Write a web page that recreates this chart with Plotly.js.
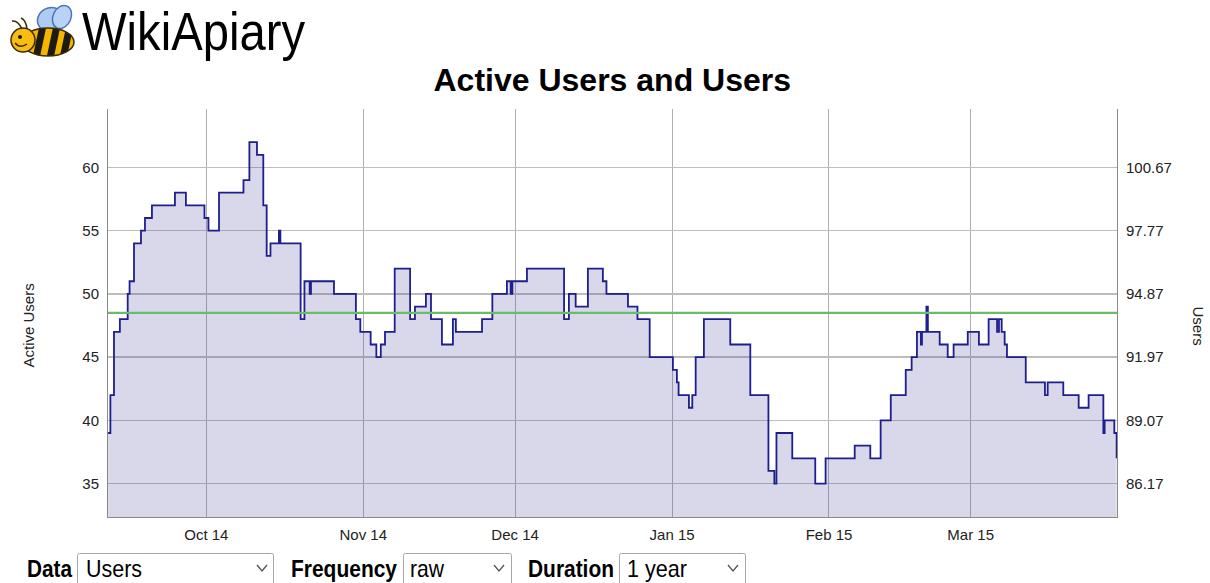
<!DOCTYPE html>
<html>
<head>
<meta charset="utf-8">
<script src="https://cdn.plot.ly/plotly-3.0.1.min.js"></script>
<style>
  html, body { margin:0; padding:0; background:#fff; }
  body { width:1210px; height:583px; overflow:hidden; position:relative; font-family:"Liberation Sans", Arial, sans-serif; }
  #chart { position:absolute; left:0; top:0; width:1210px; height:583px; }
  #logo { position:absolute; left:0; top:0; }
  #controls { position:absolute; left:0; top:540px; }
</style>
</head>
<body>
<div id="chart"></div>

<svg id="logo" width="420" height="68" xmlns="http://www.w3.org/2000/svg">
  <!-- bee -->
  <g>
    <ellipse cx="50" cy="19" rx="13" ry="11" fill="#aecbf4" stroke="#4f74b5" stroke-width="1.5" transform="rotate(-30 50 19)"/>
    <ellipse cx="62" cy="17" rx="9" ry="12" fill="#b9d3f7" stroke="#4f74b5" stroke-width="1.5" transform="rotate(25 62 17)"/>
    <clipPath id="bodyclip"><ellipse cx="48" cy="42" rx="26" ry="14"/></clipPath>
    <ellipse cx="48" cy="42" rx="26" ry="14" fill="#f4b400"/>
    <g clip-path="url(#bodyclip)" fill="#1d1a14">
      <rect x="36" y="20" width="7" height="40" transform="rotate(12 40 42)"/>
      <rect x="50" y="20" width="7" height="40" transform="rotate(12 54 42)"/>
      <rect x="63" y="20" width="7" height="40" transform="rotate(12 67 42)"/>
    </g>
    <ellipse cx="48" cy="42" rx="26" ry="14" fill="none" stroke="#3b2b00" stroke-width="1.5"/>
    <circle cx="23" cy="40" r="12" fill="#f7bd12" stroke="#3b2b00" stroke-width="1.5"/>
    <circle cx="20" cy="37" r="2" fill="#1d1a14"/>
    <path d="M15 43 Q20 49 27 44" fill="none" stroke="#3b2b00" stroke-width="1.5"/>
    <path d="M22 29 Q18 20 12 21" fill="none" stroke="#3b2b00" stroke-width="1.5"/>
    <path d="M27 29 Q26 20 21 18" fill="none" stroke="#3b2b00" stroke-width="1.5"/>
  </g>
  <text x="82" y="50" font-family="Liberation Sans, Arial, sans-serif" font-size="53" fill="#000" textLength="223" lengthAdjust="spacingAndGlyphs">WikiApiary</text>
</svg>

<svg id="controls" width="760" height="43" xmlns="http://www.w3.org/2000/svg" font-family="Liberation Sans, Arial, sans-serif">
  <text x="27" y="37" font-size="24" font-weight="bold" fill="#000" textLength="45" lengthAdjust="spacingAndGlyphs">Data</text>
  <rect x="77.5" y="13.5" width="196" height="40" rx="2" fill="#fff" stroke="#a6a6a6"/>
  <text x="86" y="37" font-size="24" fill="#000" textLength="56" lengthAdjust="spacingAndGlyphs">Users</text>
  <polyline points="257,25 262,31 267,25" fill="none" stroke="#555" stroke-width="1.3"/>

  <text x="291" y="37" font-size="24" font-weight="bold" fill="#000" textLength="106" lengthAdjust="spacingAndGlyphs">Frequency</text>
  <rect x="403.5" y="13.5" width="108" height="40" rx="2" fill="#fff" stroke="#a6a6a6"/>
  <text x="410" y="37" font-size="24" fill="#000" textLength="34" lengthAdjust="spacingAndGlyphs">raw</text>
  <polyline points="494,25 499,31 504,25" fill="none" stroke="#555" stroke-width="1.3"/>

  <text x="528" y="37" font-size="24" font-weight="bold" fill="#000" textLength="86" lengthAdjust="spacingAndGlyphs">Duration</text>
  <rect x="619.5" y="13.5" width="126" height="40" rx="2" fill="#fff" stroke="#a6a6a6"/>
  <text x="627" y="37" font-size="24" fill="#000" textLength="60" lengthAdjust="spacingAndGlyphs">1 year</text>
  <polyline points="728,25 733,31 738,25" fill="none" stroke="#555" stroke-width="1.3"/>
</svg>

<script>
// ---- data ----
const dates = [
  "2014-09-11 14:00","2014-09-12 01:00","2014-09-12 18:00","2014-09-13 22:00","2014-09-15 11:00",
  "2014-09-15 20:00","2014-09-16 17:00","2014-09-18 02:00","2014-09-18 21:00","2014-09-20 06:00",
  "2014-09-24 19:00","2014-09-26 23:00","2014-09-30 15:00","2014-10-01 10:00","2014-10-03 12:00",
  "2014-10-08 08:00","2014-10-09 12:00","2014-10-11 00:00","2014-10-12 06:00","2014-10-12 22:00",
  "2014-10-13 16:00","2014-10-15 08:00","2014-10-15 15:00","2014-10-19 15:00","2014-10-20 09:00",
  "2014-10-21 10:00","2014-10-21 16:00","2014-10-26 05:00","2014-10-30 13:00","2014-10-31 10:00",
  "2014-11-02 11:00","2014-11-03 14:00","2014-11-04 11:00","2014-11-05 07:00","2014-11-07 05:00",
  "2014-11-10 06:00","2014-11-11 05:00","2014-11-13 09:00","2014-11-14 09:00","2014-11-16 13:00",
  "2014-11-18 17:00","2014-11-19 07:00","2014-11-24 11:00","2014-11-26 12:00","2014-11-29 09:00",
  "2014-11-30 03:00","2014-11-30 11:00","2014-12-03 08:00","2014-12-10 16:00","2014-12-11 15:00",
  "2014-12-12 23:00","2014-12-15 09:00","2014-12-18 08:00","2014-12-19 01:00","2014-12-23 07:00",
  "2014-12-25 04:00","2014-12-27 14:00","2015-01-01 04:00","2015-01-01 23:00","2015-01-02 07:00",
  "2015-01-04 08:00","2015-01-05 00:00","2015-01-05 16:00","2015-01-07 07:00","2015-01-12 12:00",
  "2015-01-16 11:00","2015-01-20 01:00","2015-01-21 05:00","2015-01-21 15:00","2015-01-24 18:00",
  "2015-01-29 07:00","2015-01-31 08:00","2015-02-06 02:00","2015-02-09 04:00","2015-02-11 05:00",
  "2015-02-13 05:00","2015-02-16 04:00","2015-02-17 08:00","2015-02-18 09:00","2015-02-19 04:00",
  "2015-02-19 09:00","2015-02-20 06:00","2015-02-20 13:00","2015-02-22 21:00","2015-02-24 11:00",
  "2015-02-25 15:00","2015-02-28 10:00","2015-03-02 15:00","2015-03-04 13:00","2015-03-06 05:00",
  "2015-03-06 14:00","2015-03-07 03:00","2015-03-07 17:00","2015-03-08 04:00","2015-03-11 21:00",
  "2015-03-15 16:00","2015-03-16 05:00","2015-03-19 07:00","2015-03-22 08:00","2015-03-24 07:00",
  "2015-03-27 05:00","2015-03-27 11:00","2015-03-29 09:00","2015-03-29 20:00"
];
const activeUsers = [
  39,42,47,48,50, 51,54,55,56,57, 58,57,56,55,58, 59,62,61,57,53,
  54,55,54,48,51, 50,51,50,48,47, 46,45,46,47,52, 48,49,50,48,46,
  48,47,48,50,51, 50,51,52,48,50, 49,52,51,50,49, 48,45,44,43,42,
  41,42,45,48,46, 42,36,35,39,37, 35,37,38,37,40, 42,44,45,47,46,
  47,49,47,46,45, 46,47,46,48,47, 48,47,46,45,43, 42,43,42,41,42,
  39,40,39,37
];
const usersDates = ["2014-09-11 13:40", "2015-03-29 21:40"];
const usersValues = [94, 94];

const activeTicks = [35, 40, 45, 50, 55, 60];
const usersTicks = [86.17, 89.07, 91.97, 94.87, 97.77, 100.67];
const usersTickText = ["86.17", "89.07", "91.97", "94.87", "97.77", "100.67"];

const xRange = ["2014-09-11 13:40", "2015-03-29 21:40"];
const activeRange = [32.36, 64.62];
// right axis is aligned with the left gridlines: users = 86.17 + (active - 35) * 0.58
const usersRange = activeRange.map(v => 86.17 + (v - 35) * 0.58);

const FONT = "Liberation Sans, Arial, sans-serif";

const traces = [
  {
    x: dates, y: activeUsers, type: "scatter", mode: "lines",
    line: { shape: "hv", color: "#1e1e8e", width: 1.8 },
    fill: "tozeroy", fillcolor: "rgba(60,60,150,0.2)",
    name: "Active Users", yaxis: "y", hoverinfo: "skip"
  },
  {
    x: usersDates, y: usersValues, type: "scatter", mode: "lines",
    line: { color: "#6cba6c", width: 2.2 },
    name: "Users", yaxis: "y2", hoverinfo: "skip"
  }
];

const layout = {
  width: 1210, height: 583,
  margin: { l: 108, r: 93, t: 109, b: 66, pad: 0 },
  paper_bgcolor: "rgba(0,0,0,0)", plot_bgcolor: "#fff",
  showlegend: false,
  font: { family: FONT, color: "#222", size: 15 },
  title: {
    text: "<b>Active Users and Users</b>",
    font: { family: FONT, size: 32, color: "#000" },
    x: 0.506, xref: "container", xanchor: "center",
    y: 1 - 80 / 583, yref: "container", yanchor: "middle"
  },
  xaxis: {
    type: "date", range: xRange,
    tick0: "2014-10-01", dtick: "M1", tickformat: "%b %y",
    showgrid: true, gridcolor: "#b0b0b0", gridwidth: 1,
    showline: true, linecolor: "#8a8a8a", linewidth: 1,
    ticks: "outside", ticklen: 4, tickcolor: "rgba(0,0,0,0)",
    tickfont: { family: FONT, size: 15, color: "#222" },
    zeroline: false, fixedrange: true
  },
  yaxis: {
    range: activeRange, tickmode: "array", tickvals: activeTicks,
    showgrid: true, gridcolor: "#bdbdbd", gridwidth: 1.5,
    showline: true, linecolor: "#8a8a8a", linewidth: 1,
    ticks: "outside", ticklen: 5, tickcolor: "rgba(0,0,0,0)",
    tickfont: { family: FONT, size: 15, color: "#222" },
    zeroline: false, fixedrange: true
  },
  yaxis2: {
    overlaying: "y", side: "right",
    range: usersRange, tickmode: "array", tickvals: usersTicks, ticktext: usersTickText,
    showgrid: false,
    showline: true, linecolor: "#8a8a8a", linewidth: 1,
    ticks: "outside", ticklen: 5, tickcolor: "rgba(0,0,0,0)",
    tickfont: { family: FONT, size: 15, color: "#222" },
    zeroline: false, fixedrange: true
  },
  annotations: [
    { text: "Active Users", xref: "paper", yref: "paper",
      x: (27.5 - 108) / 1009, y: 1 - (326 - 109) / 408,
      xanchor: "center", yanchor: "middle", textangle: -90, showarrow: false,
      font: { family: FONT, size: 15, color: "#222" } },
    { text: "Users", xref: "paper", yref: "paper",
      x: (1198.5 - 108) / 1009, y: 1 - (326 - 109) / 408,
      xanchor: "center", yanchor: "middle", textangle: 90, showarrow: false,
      font: { family: FONT, size: 15, color: "#222" } }
  ]
};

Plotly.newPlot("chart", traces, layout, { displayModeBar: false, staticPlot: true });
</script>
</body>
</html>
